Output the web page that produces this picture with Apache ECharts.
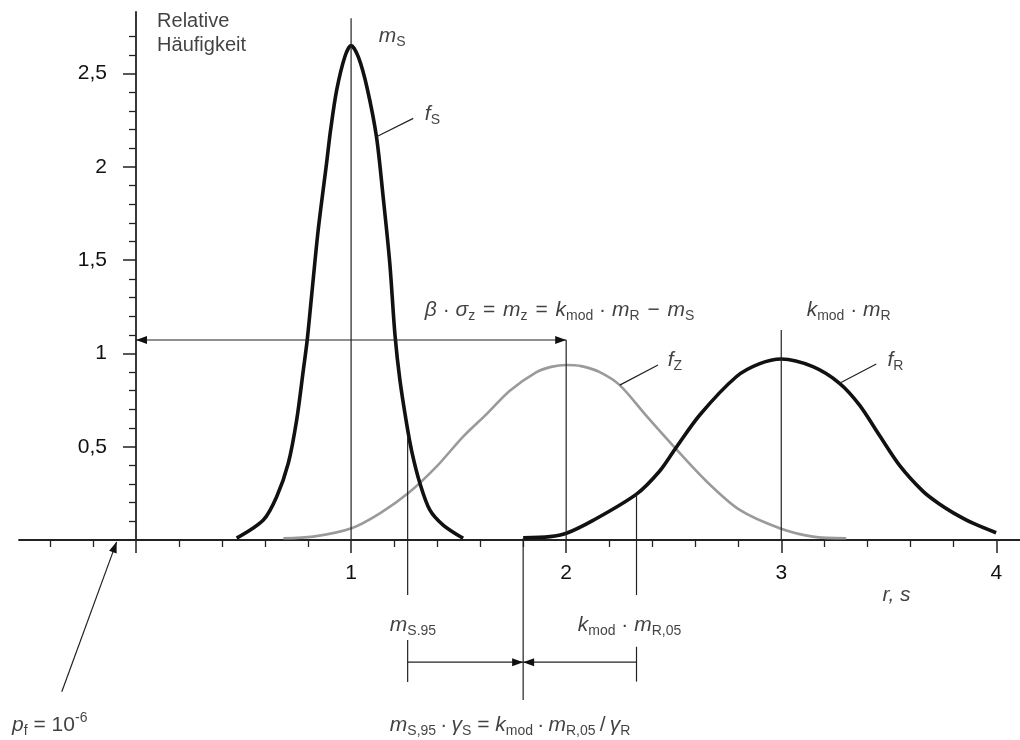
<!DOCTYPE html>
<html><head><meta charset="utf-8">
<script src="https://cdn.jsdelivr.net/npm/echarts@6/dist/echarts.min.js"></script>
<style>html,body{margin:0;padding:0;background:#fff}#c{width:1020px;height:740px}</style>
</head><body><div id="c"></div>
<script>
// ---- data ----
const fS = [[0.468,0.01],[0.592,0.107],[0.654,0.232],[0.708,0.411],[0.747,0.643],[0.778,0.911],[0.796,1.072],[0.816,1.304],[0.847,1.661],[0.886,2.019],[0.905,2.2],[0.933,2.411],[0.971,2.59],[1.0,2.65],[1.035,2.585],[1.075,2.42],[1.118,2.161],[1.149,1.84],[1.18,1.483],[1.204,1.1],[1.227,0.857],[1.258,0.625],[1.283,0.47],[1.32,0.304],[1.366,0.161],[1.428,0.08],[1.521,0.009]];
const fZ = [[0.685,0.009],[0.824,0.018],[1.002,0.063],[1.134,0.143],[1.265,0.25],[1.397,0.393],[1.521,0.554],[1.63,0.675],[1.738,0.8],[1.862,0.9],[1.93,0.928],[2.0,0.938],[2.07,0.932],[2.156,0.9],[2.249,0.83],[2.373,0.665],[2.505,0.495],[2.652,0.315],[2.807,0.161],[2.993,0.063],[3.147,0.018],[3.302,0.009]];
const fR = [[1.80,0.012],[1.924,0.018],[2.001,0.036],[2.125,0.105],[2.327,0.246],[2.435,0.37],[2.505,0.485],[2.621,0.67],[2.791,0.875],[2.9,0.945],[3.0,0.97],[3.147,0.929],[3.271,0.84],[3.364,0.723],[3.457,0.56],[3.55,0.4],[3.658,0.262],[3.73,0.197],[3.798,0.147],[3.891,0.09],[3.999,0.039]];

const xMajorTicks = [0,1,2,3,4];
const xTickLabels = [1,2,3,4];
const xMinorTicks = [0.2,0.4,0.6,0.8,1.2,1.4,1.6,1.8,2.2,2.4,2.6,2.8,3.2,3.4,3.6,3.8];
const xLeftTicks = [-0.4,-0.2];
const yTickLabels = [0.5,1,1.5,2,2.5];
const yTickTexts = ['0,5','1','1,5','2','2,5'];
const yMinorTicks = [0.1,0.2,0.3,0.4,0.6,0.7,0.8,0.9,1.1,1.2,1.3,1.4,1.6,1.7,1.8,1.9,2.1,2.2,2.3,2.4,2.6,2.7];

// guide lines [x1, y1, x2, y2]
const guideLines = [[1,0,1,2.797],[1.263,0.55,1.263,-0.295],[1.263,-0.536,1.263,-0.761],[1.80,0.01,1.80,-0.857],[2,1.072,2,0],[2.327,0.246,2.327,-0.295],[2.327,-0.572,2.327,-0.759],[3,1.125,3,0]];
const leaderLines = [[1.118,2.161,1.289,2.26],[2.249,0.83,2.427,0.938],[3.271,0.84,3.442,0.943]];
// arrows [fromX, fromY, toX, toY], head at "to"
const arrows = [[1,1.072,0,1.072],[1,1.072,2,1.072],[1.263,-0.655,1.80,-0.655],[2.327,-0.655,1.80,-0.655],[-0.345,-0.813,-0.09,-0.01]];

// annotation texts [x, y, text]
const annotations = [
  [0.098, 2.715, '{t|Relative}\n{t|Häufigkeit}'],
  [1.129, 2.70, '{i|m}{s|S}'],
  [1.343, 2.28, '{i|f}{s|S}'],
  [2.472, 0.965, '{i|f}{s|Z}'],
  [3.494, 0.965, '{i|f}{s|R}'],
  [1.343, 1.233, '{i|β}{n| · }{i|σ}{s|z}{o| = }{i|m}{s|z}{o| = }{i|k}{s|mod}{n| · }{i|m}{s|R}{o| − }{i|m}{s|S}'],
  [3.118, 1.233, '{i|k}{s|mod}{n| · }{i|m}{s|R}'],
  [3.471, -0.295, '{i|r, s}'],
  [1.18, -0.456, '{i|m}{s|S.95}'],
  [2.054, -0.456, '{i|k}{s|mod}{n| · }{i|m}{s|R,05}'],
  [-0.576, -0.99, '{i|p}{s|f}{n| = 10}{p|-6}'],
  [1.18, -0.99, '{i|m}{s|S,95}{n|\u2009·\u2009}{i|γ}{s|S}{n| = }{i|k}{s|mod}{n|\u2009·\u2009}{i|m}{s|R,05}{n|\u2009/\u2009}{i|γ}{s|R}']
];

const FONT = '"Liberation Sans", Arial, Helvetica, sans-serif';
const chart = echarts.init(document.getElementById('c'));

function segItem(params, api, head) {
  const p1 = api.coord([api.value(0), api.value(1)]);
  const p2 = api.coord([api.value(2), api.value(3)]);
  const children = [{type:'line', shape:{x1:p1[0],y1:p1[1],x2:p2[0],y2:p2[1]}, style:{stroke:'#222', lineWidth:1.2}}];
  if (head) {
    const dx = p2[0]-p1[0], dy = p2[1]-p1[1], len = Math.hypot(dx,dy);
    const ux = dx/len, uy = dy/len, L = 11, W = 4;
    const bx = p2[0]-ux*L, by = p2[1]-uy*L;
    children.push({type:'polygon', shape:{points:[[p2[0],p2[1]],[bx-uy*W,by+ux*W],[bx+uy*W,by-ux*W]]}, style:{fill:'#111'}});
  }
  return {type:'group', children};
}

const AX = {color:'#222', width:1.8};
const option = {
  animation: false,
  grid: [
    {left: 136, right: 0, top: 12, bottom: 200, containLabel: false, outerBoundsMode: 'none'},
    {left: 19, width: 117, top: 12, bottom: 200, containLabel: false, outerBoundsMode: 'none'}
  ],
  xAxis: [
    {gridIndex:0, type:'value', min:0, max:4.11, position:'bottom',
     axisLine:{onZero:false, lineStyle:AX},
     axisTick:{customValues:xMajorTicks, length:13, lineStyle:{color:'#222', width:1.5}},
     axisLabel:{customValues:xTickLabels, margin:23, fontSize:21, color:'#111', fontFamily:FONT},
     splitLine:{show:false}},
    {gridIndex:0, type:'value', min:0, max:4.11, position:'bottom',
     axisLine:{show:false, onZero:false},
     axisTick:{customValues:xMinorTicks, length:7, lineStyle:{color:'#222', width:1.3}},
     axisLabel:{show:false}, splitLine:{show:false}},
    {gridIndex:1, type:'value', min:-0.544, max:0, position:'bottom',
     axisLine:{onZero:false, lineStyle:AX},
     axisTick:{customValues:xLeftTicks, length:7, lineStyle:{color:'#222', width:1.3}},
     axisLabel:{show:false}, splitLine:{show:false}}
  ],
  yAxis: [
    {gridIndex:0, type:'value', min:0, max:2.83, position:'left',
     axisLine:{onZero:false, lineStyle:AX},
     axisTick:{customValues:yTickLabels, length:13, lineStyle:{color:'#222', width:1.5}},
     axisLabel:{customValues:yTickLabels, margin:29, fontSize:21, color:'#111', fontFamily:FONT,
       formatter: (v) => { const k = yTickLabels.indexOf(Number(v)); return k >= 0 ? yTickTexts[k] : ''; }},
     splitLine:{show:false}},
    {gridIndex:0, type:'value', min:0, max:2.83, position:'left',
     axisLine:{show:false, onZero:false},
     axisTick:{customValues:yMinorTicks, length:7, lineStyle:{color:'#222', width:1.3}},
     axisLabel:{show:false}, splitLine:{show:false}},
    {gridIndex:1, type:'value', min:0, max:2.83, show:false}
  ],
  series: [
    {type:'line', data:fZ, smooth:0.3, showSymbol:false, clip:false, lineStyle:{color:'#9a9a9a', width:2.6}, z:2},
    {type:'line', data:fS, smooth:0.3, showSymbol:false, clip:false, lineStyle:{color:'#111', width:3.6}, z:3},
    {type:'line', data:fR, smooth:0.3, showSymbol:false, clip:false, lineStyle:{color:'#111', width:3.6}, z:3},
    {type:'custom', data:guideLines, clip:false, renderItem:(p,a)=>segItem(p,a,false), z:4, silent:true},
    {type:'custom', data:leaderLines, clip:false, renderItem:(p,a)=>segItem(p,a,false), z:4, silent:true},
    {type:'custom', data:arrows, clip:false, renderItem:(p,a)=>segItem(p,a,true), z:4, silent:true},
    {type:'scatter', data:annotations.map(a=>[a[0],a[1]]), symbolSize:0, clip:false, z:5, silent:true,
     label:{show:true, position:'right', distance:0, color:'#111', fontFamily:FONT,
       formatter: p => annotations[p.dataIndex][2],
       rich:{
         t:{fontSize:20, lineHeight:24, fontFamily:FONT, color:'#111'},
         n:{fontSize:21, fontFamily:FONT, color:'#111'},
         o:{fontSize:21, fontFamily:FONT, color:'#111', padding:[0,2,0,2]},
         i:{fontSize:21, fontStyle:'italic', fontFamily:FONT, color:'#111'},
         s:{fontSize:14, fontFamily:FONT, color:'#111', padding:[12,0,0,0]},
         p:{fontSize:14, fontFamily:FONT, color:'#111', padding:[0,0,14,0]}
       }}}
  ]
};
chart.setOption(option);
</script></body></html>
